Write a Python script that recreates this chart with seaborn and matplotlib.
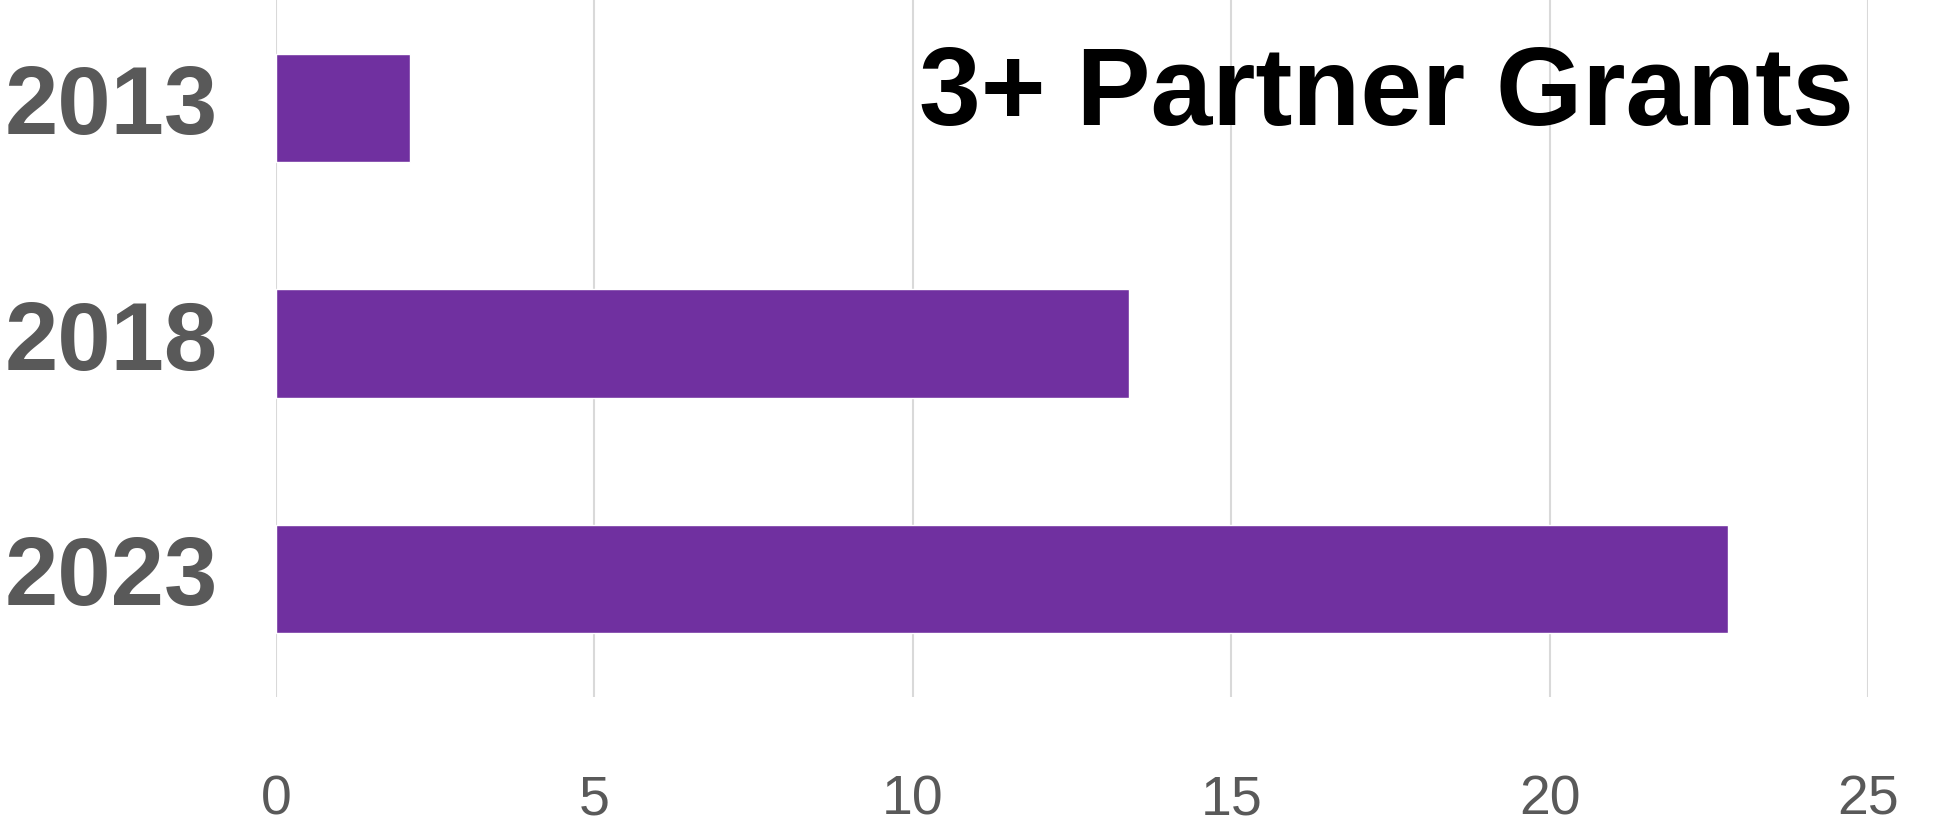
import matplotlib
matplotlib.use("Agg")
import matplotlib.pyplot as plt
import seaborn as sns
import pandas as pd

years = ["2013", "2018", "2023"]
values = [2.1, 13.4, 22.8]
x_ticks = [0, 5, 10, 15, 20, 25]
title = "3+ Partner Grants"

sns.set_style("white")
plt.rcParams['font.family'] = ['Liberation Sans', 'DejaVu Sans']

df = pd.DataFrame({"year": years, "value": values})

fig = plt.figure(figsize=(19.44, 8.28), dpi=100)
ax = fig.add_axes([0.142, 0.157, 0.819, 0.843])
sns.barplot(data=df, x="value", y="year", orient="h", color="#7030A0",
            width=0.46, saturation=1, ax=ax, zorder=3)

ax.set_xlim(0, 25)
ax.set_ylim(2.5, -0.463)
ax.set_xticks(x_ticks)
ax.set_xticklabels([str(t) for t in x_ticks], fontsize=40, color="#595959")
ax.set_yticklabels(years, fontsize=69, fontweight="bold", color="#595959")
for lbl in ax.get_yticklabels():
    lbl.set_va("center")
ax.tick_params(axis="x", length=0, pad=55)
ax.tick_params(axis="y", length=0, pad=42)
ax.grid(axis="x", color="#d9d9d9", linewidth=1.5, zorder=0)
ax.grid(axis="y", visible=False)
ax.set_axisbelow(True)
for s in ax.spines.values():
    s.set_visible(False)
ax.set_xlabel("")
ax.set_ylabel("")

ax.text(0.9907, 0.862, title, transform=ax.transAxes, ha="right", va="center",
        fontsize=80, fontweight="bold", color="black")

fig.savefig("out.png", dpi=100)
